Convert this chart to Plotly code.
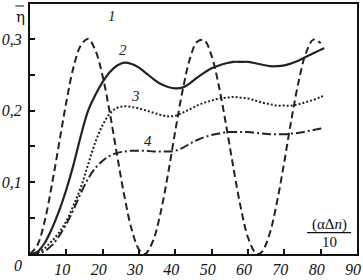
import plotly.graph_objects as go

# Curve 1 (dashed)
x1 = [0, 2, 4, 6, 8, 10, 12, 14, 16, 18, 20, 22, 24, 26, 28, 30, 31.4, 32, 34, 36, 38, 40, 42, 44, 46, 48,
      50, 52, 54, 56, 58, 60, 62, 63, 64, 66, 68, 70, 72, 74, 76, 78, 80]
y1 = [0, 0.012, 0.045, 0.096, 0.154, 0.212, 0.261, 0.291, 0.300, 0.284, 0.248, 0.196, 0.137, 0.080, 0.034,
      0.006, 0.0, 0.001, 0.020, 0.059, 0.112, 0.172, 0.228, 0.272, 0.296, 0.298, 0.276, 0.234, 0.179, 0.120,
      0.065, 0.023, 0.002, 0.0, 0.004, 0.029, 0.073, 0.129, 0.189, 0.242, 0.281, 0.299, 0.294]

xs = [0, 2, 4, 6, 8, 10, 12, 14, 16, 18, 20, 22, 24, 26, 28, 30, 32, 34, 36, 38, 40, 42, 44, 46, 48, 50,
      52, 54, 56, 58, 60, 62, 64, 66, 68, 70, 72, 74, 76, 78, 80, 81]
# Curve 2 (solid)
y2 = [0, 0.003, 0.015, 0.035, 0.06, 0.09, 0.125, 0.165, 0.2, 0.222, 0.24, 0.254, 0.263, 0.267, 0.265, 0.26,
      0.252, 0.244, 0.237, 0.233, 0.231, 0.232, 0.238, 0.246, 0.253, 0.259, 0.263, 0.266, 0.268, 0.268, 0.268,
      0.266, 0.264, 0.262, 0.262, 0.263, 0.266, 0.27, 0.275, 0.28, 0.285, 0.287]
# Curve 3 (dotted)
y3 = [0, 0.002, 0.008, 0.018, 0.03, 0.046, 0.068, 0.093, 0.125, 0.156, 0.18, 0.196, 0.204, 0.206, 0.205,
      0.203, 0.2, 0.197, 0.194, 0.192, 0.193, 0.197, 0.202, 0.207, 0.211, 0.214, 0.217, 0.218, 0.219, 0.218,
      0.217, 0.214, 0.211, 0.209, 0.207, 0.207, 0.207, 0.209, 0.212, 0.215, 0.219, 0.221]
# Curve 4 (dash-dot)
y4 = [0, 0.001, 0.004, 0.012, 0.025, 0.042, 0.062, 0.085, 0.105, 0.12, 0.13, 0.137, 0.141, 0.143, 0.144,
      0.144, 0.144, 0.143, 0.143, 0.143, 0.144, 0.148, 0.154, 0.159, 0.163, 0.166, 0.168, 0.17, 0.17, 0.17,
      0.17, 0.169, 0.168, 0.167, 0.167, 0.167, 0.168, 0.169, 0.171, 0.173, 0.175, 0.176]

x_ticks = [10, 20, 30, 40, 50, 60, 70, 80, 90]
x_labels = ["10", "20", "30", "40", "50", "60", "70", "80", "90"]
y_ticks = [0.05, 0.1, 0.15, 0.2, 0.25, 0.3]
y_labels = ["", "0,1", "", "0,2", "", "0,3"]

curve_labels = ["1", "2", "3", "4"]
label_x = [22.5, 25.5, 29, 32.5]
label_y = [0.332, 0.284, 0.221, 0.157]

fig = go.Figure()
fig.add_trace(go.Scatter(x=x1, y=y1, mode="lines", line=dict(color="#222", width=2, dash="7px,4px", shape="spline")))
fig.add_trace(go.Scatter(x=xs, y=y2, mode="lines", line=dict(color="#222", width=2.2, shape="spline")))
fig.add_trace(go.Scatter(x=xs, y=y3, mode="lines", line=dict(color="#222", width=2, dash="2px,2px", shape="spline")))
fig.add_trace(go.Scatter(x=xs, y=y4, mode="lines", line=dict(color="#222", width=2, dash="9px,3px,2px,3px", shape="spline")))

serif_it = dict(family="Liberation Serif", size=16, color="#111", style="italic")

def ital(s):
    return "<i>" + s + "</i>" if s else ""

for t, lx, ly in zip(curve_labels, label_x, label_y):
    fig.add_annotation(x=lx, y=ly, text=ital(t), showarrow=False, xanchor="center", yanchor="middle",
                       font=dict(family="Liberation Serif", size=15, color="#222"))

# origin label
fig.add_annotation(xref="paper", yref="paper", x=-0.037, y=-0.047, text=ital("0"), showarrow=False,
                   xanchor="center", yanchor="middle", font=serif_it)
# y label (eta with bar)
fig.add_annotation(xref="paper", yref="paper", x=-0.03, y=0.95, text="\u03b7", showarrow=False,
                   xanchor="center", yanchor="middle",
                   font=dict(family="DejaVu Serif", size=15, color="#111"))
fig.add_shape(type="line", xref="paper", yref="paper", x0=-0.045, x1=-0.018, y0=0.992, y1=0.992,
              line=dict(color="#111", width=1))
# x label fraction
fig.add_annotation(xref="paper", yref="paper", x=0.9146, y=0.12, text="(\u03b1\u0394<i>n</i>)", showarrow=False,
                   xanchor="center", yanchor="middle",
                   font=dict(family="Liberation Serif", size=15, color="#111"))
fig.add_annotation(xref="paper", yref="paper", x=0.9146, y=0.05, text="10", showarrow=False,
                   xanchor="center", yanchor="middle",
                   font=dict(family="Liberation Serif", size=15, color="#111"))
fig.add_shape(type="line", xref="paper", yref="paper", x0=0.8476, x1=0.9817, y0=0.0853, y1=0.0853,
              line=dict(color="#111", width=1.2))

fig.update_layout(
    width=363, height=280,
    margin=dict(l=30, r=5, t=2, b=21),
    paper_bgcolor="white", plot_bgcolor="white",
    showlegend=False,
    xaxis=dict(range=[0, 90], tickvals=x_ticks, ticktext=[ital(s) for s in x_labels], ticks="inside", ticklen=5,
               tickwidth=1.5, tickcolor="#111", showgrid=False, zeroline=False, showline=True, linewidth=2,
               linecolor="#111", mirror=True, tickfont=serif_it, ticklabelshift=-4),
    yaxis=dict(range=[0, 0.3487], tickvals=y_ticks, ticktext=[ital(s) for s in y_labels], ticks="inside", ticklen=5,
               tickwidth=1.5, tickcolor="#111", showgrid=False, zeroline=False, showline=True, linewidth=2,
               linecolor="#111", mirror=True, tickfont=serif_it, ticklabelstandoff=3),
)

fig.write_html("out.html", config={"displayModeBar": False},
               post_script="document.body.style.margin='0';document.body.style.overflow='hidden';")
